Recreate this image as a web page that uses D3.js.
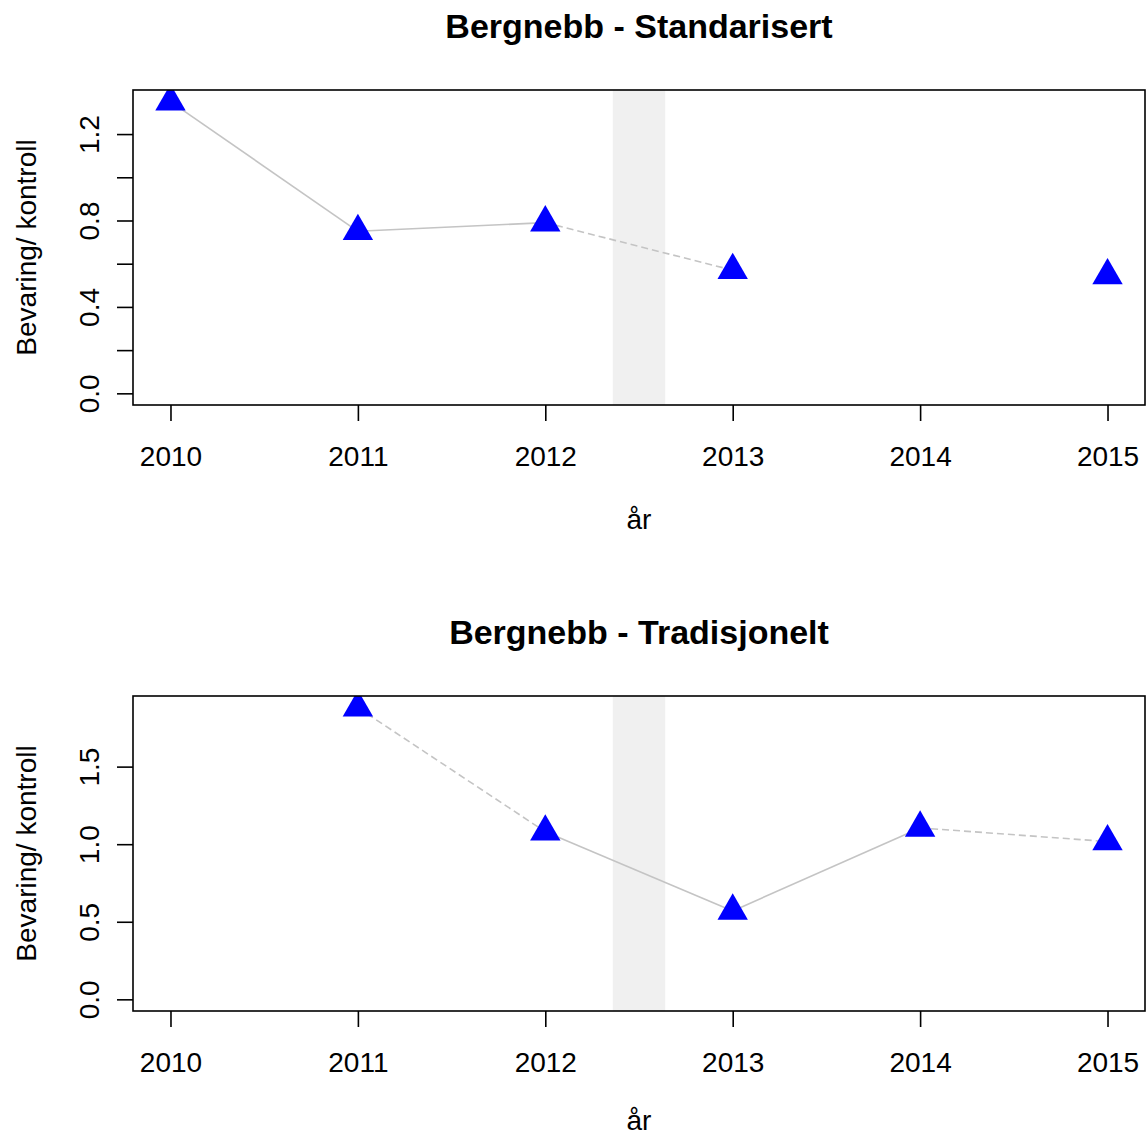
<!DOCTYPE html>
<html>
<head>
<meta charset="utf-8">
<script src="https://cdn.jsdelivr.net/npm/d3@7/dist/d3.min.js"></script>
<style>
  body { margin: 0; background: #fff; }
  svg { display: block; font-family: "Liberation Sans", Arial, sans-serif; }
</style>
</head>
<body>
<svg id="chart" width="1146" height="1137"></svg>
<script>
// Chart data.
var years = [2010, 2011, 2012, 2013, 2014, 2015];
var titles = ['Bergnebb - Standarisert', 'Bergnebb - Tradisjonelt'];
var standardValues = [1.35, 0.75, 0.79, 0.57, null, 0.545];
var traditionalValues = [null, 1.88, 1.08, 0.57, 1.105, 1.017];
var standardTicks = [0, 0.2, 0.4, 0.6, 0.8, 1.0, 1.2];
var standardTickLabels = ['0.0', '', '0.4', '', '0.8', '', '1.2'];
var traditionalTicks = [0, 0.5, 1.0, 1.5];
var traditionalTickLabels = ['0.0', '0.5', '1.0', '1.5'];
var shadedPeriod = [2012.36, 2012.64];
// Which segments (between consecutive years) show as dashed.
var standardDashed = [false, false, true, false, false];
var traditionalDashed = [false, true, false, false, true];

var svg = d3.select('#chart');

/**
 * Draws one R-style panel.
 * @param {!Object} p
 */
function drawPanel(p) {
  var left = 133, right = 1145;
  var top = p.top, bottom = p.top + 315;
  var g = svg.append('g');

  var x = d3.scaleLinear().domain([2009.8, 2015.2]).range([left, right]);
  // R pads the range by 4% on each side
  var ymax = d3.max(p.values);
  var pad = ymax * 0.04;
  var y = d3.scaleLinear().domain([-pad, ymax + pad]).range([bottom, top]);

  // shaded gap year
  g.append('rect')
    .attr('x', x(shadedPeriod[0]))
    .attr('y', top)
    .attr('width', x(shadedPeriod[1]) - x(shadedPeriod[0]))
    .attr('height', bottom - top)
    .attr('fill', '#f0f0f0');

  var clip = g.append('clipPath').attr('id', 'clip' + p.id);
  clip.append('rect')
    .attr('x', left).attr('y', top)
    .attr('width', right - left).attr('height', bottom - top);

  var inner = g.append('g').attr('clip-path', 'url(#clip' + p.id + ')');

  // connecting segments, skipping missing years
  for (var i = 0; i < years.length - 1; i++) {
    var a = p.values[i], b = p.values[i + 1];
    if (a == null || b == null) {
      continue;
    }
    inner.append('path')
      .attr('d', d3.line()([[x(years[i]), y(a)], [x(years[i + 1]), y(b)]]))
      .attr('fill', 'none')
      .attr('stroke', '#c4c4c4')
      .attr('stroke-width', 1.6)
      .attr('stroke-dasharray', p.dashed[i] ? '7,4' : null);
  }

  var tri = d3.symbol().type(d3.symbolTriangle).size(400);
  inner.selectAll('path.pt')
    .data(years.map(function(yr, k) { return [yr, p.values[k]]; })
      .filter(function(d) { return d[1] != null; }))
    .enter().append('path')
    .classed('pt', true)
    .attr('d', tri)
    .attr('transform', function(d) {
      return 'translate(' + x(d[0]) + ',' + y(d[1]) + ')';
    })
    .attr('fill', '#0000ff');

  // box
  g.append('rect')
    .attr('x', left).attr('y', top)
    .attr('width', right - left).attr('height', bottom - top)
    .attr('fill', 'none')
    .attr('stroke', '#000')
    .attr('stroke-width', 1.6);

  // x axis
  var xAxis = d3.axisBottom(x).tickValues(years).tickFormat(d3.format('d'))
    .tickSize(16).tickPadding(25);
  var xg = g.append('g')
    .attr('transform', 'translate(0,' + bottom + ')')
    .call(xAxis);
  xg.select('.domain').remove();
  xg.selectAll('line').attr('stroke', '#000').attr('stroke-width', 1.6);
  xg.selectAll('text')
    .attr('font-size', 28)
    .attr('font-family', '"Liberation Sans", Arial, sans-serif')
    .attr('fill', '#000');

  // y axis, labels rotated like R's default las=0
  var yAxis = d3.axisLeft(y).tickValues(p.ticks)
    .tickFormat(function(d, k) { return p.tickLabels[k]; })
    .tickSize(16);
  var yg = g.append('g')
    .attr('transform', 'translate(' + left + ',0)')
    .call(yAxis);
  yg.select('.domain').remove();
  yg.selectAll('line').attr('stroke', '#000').attr('stroke-width', 1.6);
  yg.selectAll('text')
    .attr('font-size', 28)
    .attr('font-family', '"Liberation Sans", Arial, sans-serif')
    .attr('fill', '#000')
    .attr('text-anchor', 'middle')
    .attr('dy', null)
    .attr('x', null)
    .attr('transform', 'translate(-34,0) rotate(-90)');

  var mid = (left + right) / 2;
  g.append('text')
    .attr('x', mid)
    .attr('y', top - 52)
    .attr('text-anchor', 'middle')
    .attr('font-size', 34)
    .attr('font-weight', 'bold')
    .text(p.title);

  g.append('text')
    .attr('x', mid)
    .attr('y', Math.min(bottom + 124, 1130))
    .attr('text-anchor', 'middle')
    .attr('font-size', 28)
    .text('år');

  g.append('text')
    .attr('transform', 'translate(36,' + (top + bottom) / 2 + ') rotate(-90)')
    .attr('text-anchor', 'middle')
    .attr('font-size', 28)
    .text('Bevaring/ kontroll');
}

drawPanel({
  id: 1,
  top: 90,
  title: titles[0],
  values: standardValues,
  ticks: standardTicks,
  tickLabels: standardTickLabels,
  dashed: standardDashed
});

drawPanel({
  id: 2,
  top: 696,
  title: titles[1],
  values: traditionalValues,
  ticks: traditionalTicks,
  tickLabels: traditionalTickLabels,
  dashed: traditionalDashed
});
</script>
</body>
</html>
